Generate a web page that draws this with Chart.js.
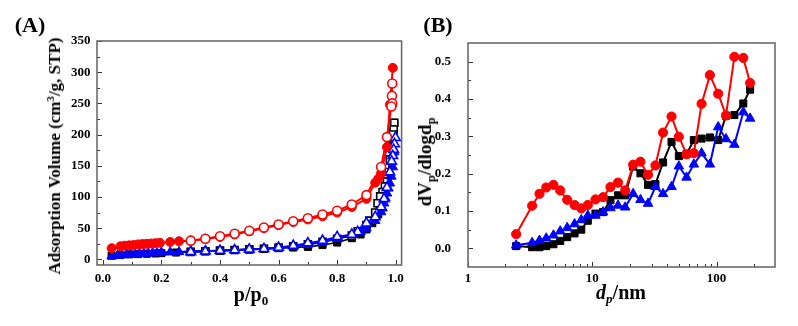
<!DOCTYPE html>
<html>
<head>
<meta charset="utf-8">
<script src="https://cdn.jsdelivr.net/npm/chart.js@4"></script>
<style>
  body { margin:0; background:#fff; width:798px; height:326px; position:relative; overflow:hidden;
         font-family:"Liberation Serif", "Times New Roman", serif; font-weight:bold; color:#000; }
  canvas { position:absolute; top:0; }
  #cA { left:0; }
  #cB { left:400px; }
  .lbl { position:absolute; white-space:nowrap; transform:translate(-50%,-50%); }
  .rot { position:absolute; white-space:nowrap; transform:translate(-50%,-50%) rotate(-90deg); }
  sub, sup { font-size:0.65em; line-height:0; }
  sub { vertical-align:-0.35em; }
  sup { vertical-align:0.55em; }
</style>
</head>
<body>
<canvas id="cA" width="410" height="326"></canvas>
<canvas id="cB" width="398" height="326"></canvas>

<div class="lbl" style="left:30px;top:25px;font-size:22px">(A)</div>
<div class="lbl" style="left:438px;top:25px;font-size:22px">(B)</div>
<div class="rot" style="left:55px;top:156px;font-size:17px">Adsorption Volume (cm<sup>3</sup>/g, STP)</div>
<div class="lbl" style="left:251px;top:294px;font-size:20px">p/p<sub>0</sub></div>
<div class="rot" style="left:425px;top:162px;font-size:19px">dV<sub>p</sub>/dlogd<sub>p</sub></div>
<div class="lbl" style="left:621px;top:292px;font-size:20px"><i>d</i><sub><i>p</i></sub>/nm</div>

<script>
// ---- panel A: isotherms ----
const redAdsP = [0.03,0.06,0.075,0.09,0.105,0.12,0.135,0.15,0.165,0.18,0.195,0.23,0.26,0.30,0.35,0.40,0.45,0.50,0.55,0.60,0.65,0.70,0.75,0.80,0.85,0.90,0.93,0.94,0.95,0.97,0.98,0.99];
const redAdsV = [18,21,22,22.5,23,24,24.5,25,25.5,26,26.5,28,29,30,33,36,40,45,50,55,60,64,69,75,84,97,123,129,138,180,248,307];
const redDesP = [0.988,0.987,0.988,0.985,0.97,0.95,0.90,0.85,0.80,0.75,0.70,0.65,0.60,0.55,0.50,0.45,0.40,0.35,0.30];
const redDesV = [282,262,250,245,196,148,103,88,78,72,66,61,56,51,46,41,37,33,30];

const blackAdsP = [0.03,0.06,0.09,0.12,0.15,0.18,0.2,0.25,0.3,0.35,0.4,0.45,0.5,0.55,0.6,0.65,0.7,0.75,0.8,0.85,0.88,0.9,0.92,0.94,0.95,0.96,0.97,0.975,0.98,0.985,0.99,0.995];
const blackAdsV = [6,7,8,8.5,9,9.5,10,11,12,13,14,15,16,17,18,19,20,23,27,34,40,48,58,72,85,100,120,140,160,185,205,219];
const blackDesP = [0.995,0.993,0.99,0.985,0.98,0.975,0.97,0.963,0.955,0.947,0.938,0.93,0.91,0.9,0.87,0.85,0.8,0.75,0.7,0.65,0.6,0.55,0.5,0.45,0.4,0.35,0.3];
const blackDesV = [219,208,200,180,160,140,125,117,108,101,90,75,62,55,45,38,33,28,24,21,19,17,16,15,14,13,12];

const blueAdsP = [0.03,0.05,0.065,0.08,0.095,0.11,0.125,0.14,0.155,0.17,0.185,0.2,0.23,0.26,0.30,0.35,0.40,0.45,0.50,0.55,0.60,0.65,0.70,0.75,0.80,0.85,0.88,0.90,0.93,0.95,0.955,0.96,0.965,0.97,0.975,0.98,0.985,0.99,0.995];
const blueAdsV = [5,6,7,7.5,8,8.5,9,9.5,10,10,10.5,11,11.5,12,13,13.5,14,15,16,17,18,21,24,28,33,39,44,50,62,76,82,90,98,106,114,122,133,148,172];
const blueDesP = [0.999,0.996,0.993,0.99,0.986,0.98,0.97,0.96,0.95,0.93,0.90,0.87,0.85,0.80,0.75,0.70,0.65,0.60,0.55,0.50,0.45,0.40,0.35,0.30];
const blueDesV = [195,185,176,166,157,140,115,97,84,68,58,44,40,36,30,26,22,19,17,16,15,14,13,12];

const pressureTicks = [0, 0.2, 0.4, 0.6, 0.8, 1.0];
const pressureMinor = [0.1, 0.3, 0.5, 0.7, 0.9];
const volumeTicks = [0, 50, 100, 150, 200, 250, 300, 350];
const volumeMinor = [25, 75, 125, 175, 225, 275, 325];

// ---- panel B: pore size distribution ----
const poreSizes = [2.44,3.28,3.76,4.26,4.87,5.52,6.28,7.2,8.15,9.2,10.6,12.2,14.0,16.1,18.4,21.3,24.4,28.1,32.2,37.1,43.4,49.7,57.3,65.6,75.7,88.3,103,119,139,164,186];
const redDist   = [0.038,0.114,0.146,0.163,0.170,0.155,0.130,0.116,0.107,0.116,0.131,0.137,0.164,0.176,0.155,0.224,0.232,0.197,0.222,0.310,0.353,0.299,0.252,0.255,0.387,0.464,0.414,0.356,0.513,0.510,0.443];
const blackDist = [0.006,0.003,0.003,0.006,0.011,0.020,0.030,0.040,0.050,0.074,0.093,0.097,0.129,0.142,0.142,0.219,0.201,0.170,0.172,0.230,0.285,0.247,0.252,0.290,0.294,0.297,0.290,0.355,0.357,0.388,0.425];
const blueDist  = [0.008,0.015,0.021,0.027,0.035,0.046,0.055,0.065,0.076,0.088,0.088,0.097,0.108,0.115,0.110,0.146,0.130,0.120,0.165,0.146,0.165,0.220,0.190,0.225,0.255,0.225,0.325,0.293,0.278,0.365,0.348];

const sizeTicks = [1, 10, 100];
const sizeMinor = [2,3,4,5,6,7,8,9,20,30,40,50,60,70,80,90,200];
const dvTicks = [0, 0.1, 0.2, 0.3, 0.4, 0.5];
const dvMinor = [0.05, 0.15, 0.25, 0.35, 0.45];

const RED = '#ff0000', BLACK = '#000000', BLUE = '#0000ff';
const tickFont = { family: 'Liberation Serif', size: 13, weight: 'bold' };

function series(xs, ys, color, shape, open, r, lw) {
  return {
    data: xs.map((x, i) => ({ x: x, y: ys[i] })),
    borderColor: color,
    borderWidth: lw,
    pointStyle: shape,
    pointRadius: r,
    pointBorderColor: color,
    pointBackgroundColor: open ? '#ffffff' : color,
    pointBorderWidth: open ? 1.6 : 1,
    fill: false
  };
}

// box round the plot and inward tick marks
const frame = {
  id: 'frame',
  beforeDatasetsDraw(chart, args, opts) {
    const { ctx, chartArea: a, scales } = chart;
    ctx.save();
    ctx.strokeStyle = '#333';
    ctx.lineWidth = 1;
    ctx.beginPath();
    const xt = (vals, len) => vals.forEach(v => {
      const px = Math.round(scales.x.getPixelForValue(v)) + 0.5;
      ctx.moveTo(px, a.bottom); ctx.lineTo(px, a.bottom - len);
    });
    const yt = (vals, len) => vals.forEach(v => {
      const py = Math.round(scales.y.getPixelForValue(v)) + 0.5;
      ctx.moveTo(a.left, py); ctx.lineTo(a.left + len, py);
    });
    xt(opts.xMajor, 5); xt(opts.xMinor, 3);
    yt(opts.yMajor, 5); yt(opts.yMinor, 3);
    ctx.stroke();
    ctx.strokeStyle = '#6b6b6b';
    ctx.lineWidth = 1.6;
    ctx.strokeRect(a.left, a.top, a.right - a.left, a.bottom - a.top);
    ctx.restore();
  }
};

function axis(type, min, max, ticks, fmt, pad, fit) {
  return {
    type: type, min: min, max: max,
    grid: { display: false, drawTicks: false },
    border: { display: false },
    afterBuildTicks: s => { s.ticks = ticks.map(v => ({ value: v })); },
    afterFit: fit,
    ticks: { font: tickFont, color: '#000', padding: pad, autoSkip: false, maxRotation: 0, callback: fmt }
  };
}

new Chart(document.getElementById('cA'), {
  type: 'line',
  data: {
    datasets: [
      series(redDesP, redDesV, RED, 'circle', true, 4.5, 2),
      series(redAdsP, redAdsV, RED, 'circle', false, 4.5, 2),
      series(blueDesP, blueDesV, BLUE, 'triangle', true, 5.5, 2),
      series(blueAdsP, blueAdsV, BLUE, 'triangle', false, 5.5, 2),
      series(blackDesP, blackDesV, BLACK, 'rect', true, 5, 1.6),
      series(blackAdsP, blackAdsV, BLACK, 'rect', false, 5, 1.6)
    ]
  },
  options: {
    responsive: false,
    animation: false,
    layout: { padding: { left: 0, right: 6, top: 41, bottom: 31 } },
    plugins: {
      legend: { display: false },
      tooltip: { enabled: false },
      frame: { xMajor: pressureTicks, xMinor: pressureMinor, yMajor: volumeTicks, yMinor: volumeMinor }
    },
    scales: {
      x: axis('linear', -0.02, 1.02, pressureTicks, v => v.toFixed(1), 6, s => { s.height = 30; }),
      y: axis('linear', -9, 350, volumeTicks, v => String(v), 6.5, s => { s.width = 97; })
    }
  },
  plugins: [frame]
});

new Chart(document.getElementById('cB'), {
  type: 'line',
  data: {
    datasets: [
      series(poreSizes, redDist, RED, 'circle', false, 4.6, 2),
      series(poreSizes, blueDist, BLUE, 'triangle', false, 5.5, 2),
      series(poreSizes, blackDist, BLACK, 'rect', false, 5, 2)
    ]
  },
  options: {
    responsive: false,
    animation: false,
    layout: { padding: { left: 0, right: 23, top: 43, bottom: 29 } },
    plugins: {
      legend: { display: false },
      tooltip: { enabled: false },
      frame: { xMajor: sizeTicks, xMinor: sizeMinor, yMajor: dvTicks, yMinor: dvMinor }
    },
    scales: {
      x: axis('logarithmic', 1, 295, sizeTicks, v => String(v), 4, s => { s.height = 30; }),
      y: axis('linear', -0.05, 0.55, dvTicks, v => v.toFixed(1), 17, s => { s.width = 68; })
    }
  },
  plugins: [frame]
});
</script>
</body>
</html>
